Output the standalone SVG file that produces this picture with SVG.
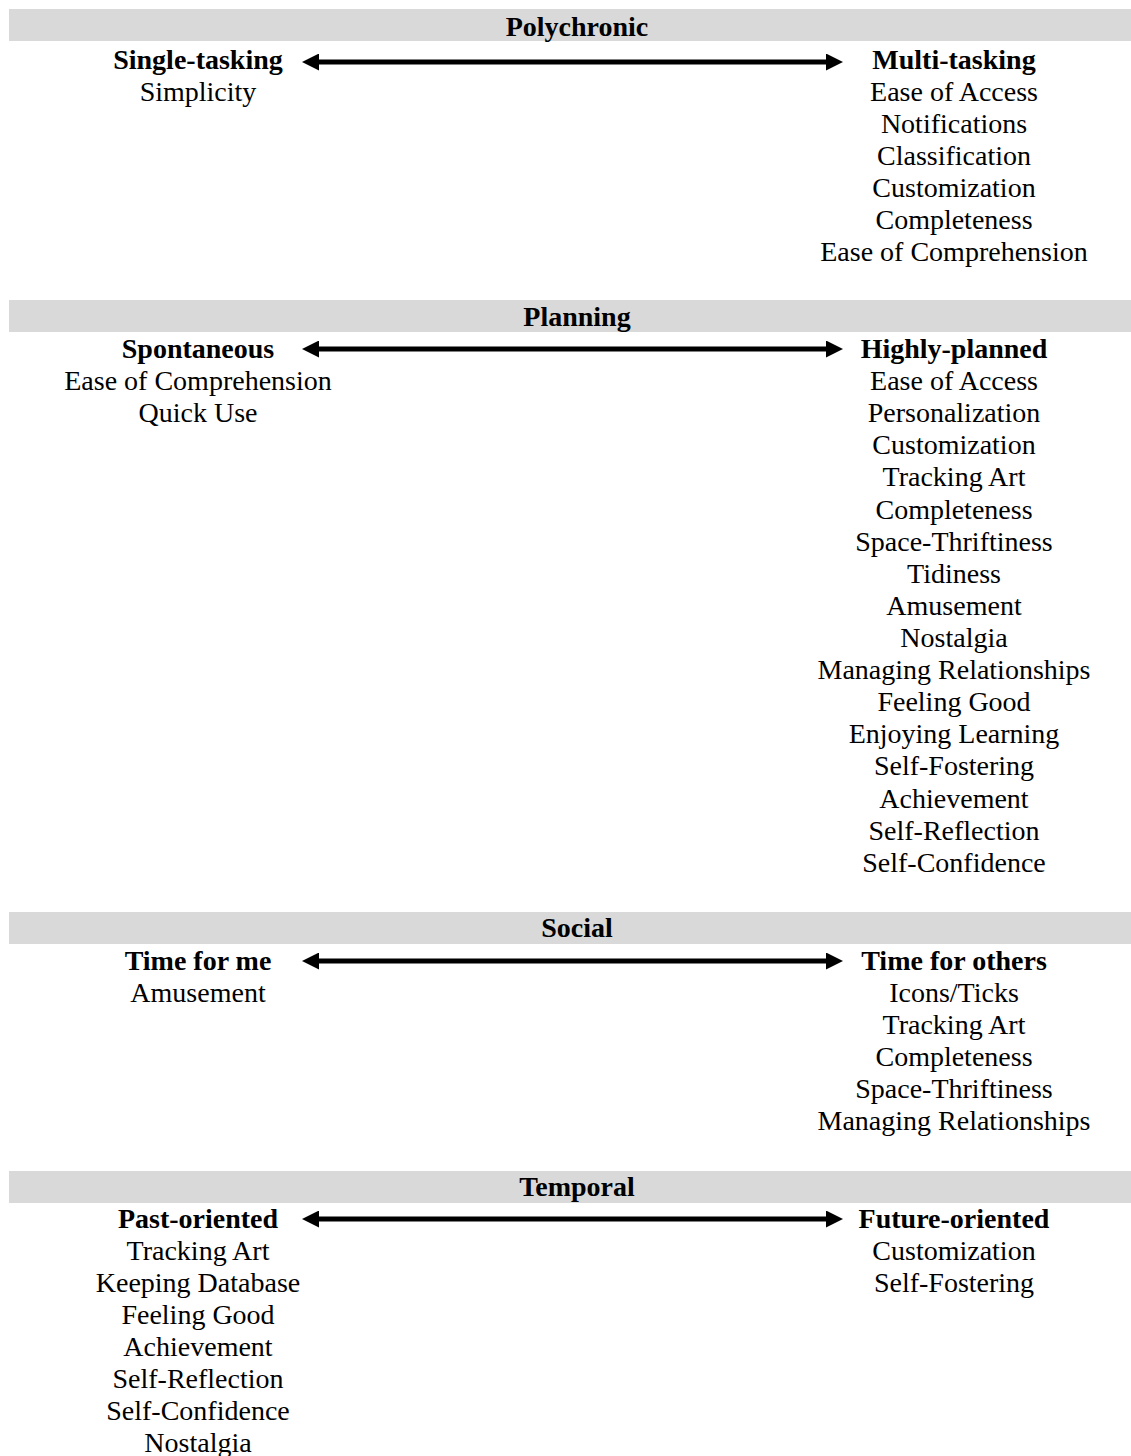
<svg xmlns="http://www.w3.org/2000/svg" width="1131" height="1456" viewBox="0 0 1131 1456">
<style>
.bar{fill:#d9d9d9}
text{font-family:"Liberation Serif","Times New Roman",serif;font-size:28px;fill:#000;text-anchor:middle}
.b{font-weight:bold}
.arrow{stroke:#000;stroke-width:5;fill:none}
</style>
<defs>
<marker id="ah" viewBox="0 0 17 17" refX="1" refY="8.5" markerWidth="17" markerHeight="17" markerUnits="userSpaceOnUse" orient="auto-start-reverse">
<path d="M0,0 L17,8.5 L0,17 z" fill="#000"/>
</marker>
</defs>
<rect width="1131" height="1456" fill="#fff"/>
<g id="connectors">
<line class="arrow" x1="318" y1="62" x2="827" y2="62" marker-start="url(#ah)" marker-end="url(#ah)"/>
<line class="arrow" x1="318" y1="349" x2="827" y2="349" marker-start="url(#ah)" marker-end="url(#ah)"/>
<line class="arrow" x1="318" y1="961" x2="827" y2="961" marker-start="url(#ah)" marker-end="url(#ah)"/>
<line class="arrow" x1="318" y1="1219" x2="827" y2="1219" marker-start="url(#ah)" marker-end="url(#ah)"/>
</g>
<g id="polychronic">
<rect class="bar" x="9" y="9" width="1122" height="32"/>
<text class="b" x="577" y="36">Polychronic</text>
</g>
<g id="single-tasking">
<text class="b" x="198" y="69">Single-tasking</text>
<text x="198" y="101">Simplicity</text>
</g>
<g id="multi-tasking">
<text class="b" x="954" y="69">Multi-tasking</text>
<text x="954" y="101">Ease of Access</text>
<text x="954" y="133">Notifications</text>
<text x="954" y="165">Classification</text>
<text x="954" y="197">Customization</text>
<text x="954" y="229">Completeness</text>
<text x="954" y="261">Ease of Comprehension</text>
</g>
<g id="planning">
<rect class="bar" x="9" y="300" width="1122" height="32"/>
<text class="b" x="577" y="326">Planning</text>
</g>
<g id="spontaneous">
<text class="b" x="198" y="358">Spontaneous</text>
<text x="198" y="390">Ease of Comprehension</text>
<text x="198" y="422">Quick Use</text>
</g>
<g id="highly-planned">
<text class="b" x="954" y="358">Highly-planned</text>
<text x="954" y="390">Ease of Access</text>
<text x="954" y="422">Personalization</text>
<text x="954" y="454">Customization</text>
<text x="954" y="486">Tracking Art</text>
<text x="954" y="519">Completeness</text>
<text x="954" y="551">Space-Thriftiness</text>
<text x="954" y="583">Tidiness</text>
<text x="954" y="615">Amusement</text>
<text x="954" y="647">Nostalgia</text>
<text x="954" y="679">Managing Relationships</text>
<text x="954" y="711">Feeling Good</text>
<text x="954" y="743">Enjoying Learning</text>
<text x="954" y="775">Self-Fostering</text>
<text x="954" y="808">Achievement</text>
<text x="954" y="840">Self-Reflection</text>
<text x="954" y="872">Self-Confidence</text>
</g>
<g id="social">
<rect class="bar" x="9" y="912" width="1122" height="32"/>
<text class="b" x="577" y="937">Social</text>
</g>
<g id="time-for-me">
<text class="b" x="198" y="970">Time for me</text>
<text x="198" y="1002">Amusement</text>
</g>
<g id="time-for-others">
<text class="b" x="954" y="970">Time for others</text>
<text x="954" y="1002">Icons/Ticks</text>
<text x="954" y="1034">Tracking Art</text>
<text x="954" y="1066">Completeness</text>
<text x="954" y="1098">Space-Thriftiness</text>
<text x="954" y="1130">Managing Relationships</text>
</g>
<g id="temporal">
<rect class="bar" x="9" y="1171" width="1122" height="32"/>
<text class="b" x="577" y="1196">Temporal</text>
</g>
<g id="past-oriented">
<text class="b" x="198" y="1228">Past-oriented</text>
<text x="198" y="1260">Tracking Art</text>
<text x="198" y="1292">Keeping Database</text>
<text x="198" y="1324">Feeling Good</text>
<text x="198" y="1356">Achievement</text>
<text x="198" y="1388">Self-Reflection</text>
<text x="198" y="1420">Self-Confidence</text>
<text x="198" y="1452">Nostalgia</text>
</g>
<g id="future-oriented">
<text class="b" x="954" y="1228">Future-oriented</text>
<text x="954" y="1260">Customization</text>
<text x="954" y="1292">Self-Fostering</text>
</g>
</svg>
